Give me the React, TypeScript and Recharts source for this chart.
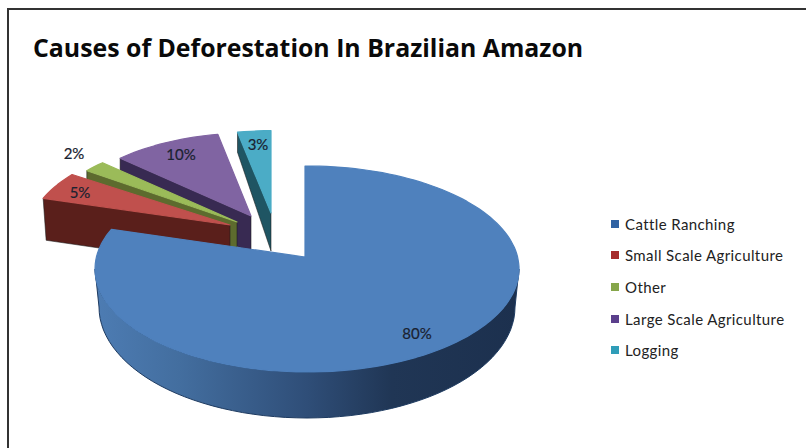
import React from "react";
import { PieChart, Pie, Legend } from "recharts";

const titleText = "Causes of Deforestation In Brazilian Amazon";
const categories = ["Cattle Ranching", "Small Scale Agriculture", "Other", "Large Scale Agriculture", "Logging"];
const shares = [80, 5, 2, 10, 3];
const topColors = ["#4f81bd", "#c0504d", "#9bbb59", "#8064a2", "#4bacc6"];
const legendColors = ["#2f62a3", "#a62b2b", "#86a64a", "#5b3f8c", "#2f9db8"];
const wallColors = ["#2f4f7a", "#5a1f1b", "#5d6b2e", "#382a52", "#1f5563"];

// Slices are listed counter-clockwise so that the nearest one is painted last.
const pieData = categories.map((name, i) => ({ name, value: shares[i] })).reverse();

type Geom = { dx: number; dy: number; s: number; k: number; depthTip: number; depthOuter: number; wallDx: number; lx: number; ly: number };
const GEOM: Record<string, Geom> = {
  "Cattle Ranching": { dx: 0, dy: 0, s: 1, k: 0.44, depthTip: 0, depthOuter: 0, wallDx: 0, lx: 112, ly: 76 },
  "Small Scale Agriculture": { dx: -75, dy: -32, s: 0.965, k: 0.44, depthTip: 42, depthOuter: 42, wallDx: 3, lx: -150, ly: -33 },
  Other: { dx: -68, dy: -35, s: 0.94, k: 0.47, depthTip: 40, depthOuter: 40, wallDx: 0, lx: -163, ly: -69 },
  "Large Scale Agriculture": { dx: -54, dy: -41, s: 0.915, k: 0.47, depthTip: 36, depthOuter: 40, wallDx: 0, lx: -70, ly: -62 },
  Logging: { dx: -34, dy: -44, s: 0.905, k: 0.46, depthTip: 38, depthOuter: 20, wallDx: 0, lx: -13, ly: -69 },
};
const ELLIPSE_RATIO = 103 / 212;
const CX = 305;
const CY = 257;
const R = 212;
const FONT = "Lato, 'Open Sans', sans-serif";

const colorOf = (name: string, list: string[]) => list[categories.indexOf(name)];

function Slice3D(props: any) {
  const { cx, cy, outerRadius, startAngle, endAngle } = props;
  const name: string = props.name ?? props.payload?.name;
  const g = GEOM[name];
  const tx = cx + g.dx;
  const ty = cy + g.dy;
  const rx = outerRadius * g.s;
  const ry = rx * ELLIPSE_RATIO;
  const ox = 2 * g.s;
  const oy = 12 * g.s;
  const at = (deg: number) => {
    const a = (deg * Math.PI) / 180;
    const ux = Math.cos(a);
    const uy = -Math.sin(a) * g.k;
    const A = (ux * ux) / (rx * rx) + (uy * uy) / (ry * ry);
    const B = -2 * ((ux * ox) / (rx * rx) + (uy * oy) / (ry * ry));
    const C = (ox * ox) / (rx * rx) + (oy * oy) / (ry * ry) - 1;
    const t = (-B + Math.sqrt(B * B - 4 * A * C)) / (2 * A);
    return [tx + ux * t, ty + uy * t];
  };
  const steps = Math.max(4, Math.round(Math.abs(endAngle - startAngle) / 2));
  const arc: number[][] = [];
  for (let i = 0; i <= steps; i++) arc.push(at(startAngle + ((endAngle - startAngle) * i) / steps));
  const top = "M" + [[tx, ty], ...arc].map((p) => p[0].toFixed(1) + " " + p[1].toFixed(1)).join("L") + "Z";
  const top_fill = colorOf(name, topColors);

  let wall: React.ReactNode = null;
  if (name === "Cattle Ranching") {
    const ex = tx + ox;
    const ey = ty + oy;
    const up: string[] = [];
    const low: string[] = [];
    for (let d = 180; d <= 360; d += 3) {
      const a = (d * Math.PI) / 180;
      up.push((ex + rx * Math.cos(a)).toFixed(1) + " " + (ey - ry * Math.sin(a)).toFixed(1));
      const depth = 38 + 8 * Math.abs(Math.sin(a));
      low.unshift((ex + (rx - 4) * Math.cos(a)).toFixed(1) + " " + (ey - ry * Math.sin(a) + depth).toFixed(1));
    }
    wall = <path d={"M" + up.concat(low).join("L") + "Z"} fill="url(#rimGrad)" stroke="#1d3a60" strokeWidth={1} />;
  } else {
    const p = at(endAngle);
    const quad = `M${tx} ${ty}L${p[0]} ${p[1]}L${p[0] + g.wallDx} ${p[1] + g.depthOuter}L${tx} ${ty + g.depthTip}Z`;
    wall = <path d={quad} fill={colorOf(name, wallColors)} stroke="#1a1a1a" strokeWidth={0.8} strokeOpacity={0.7} />;
  }
  return (
    <g>
      {wall}
      <path d={top} fill={top_fill} stroke={top_fill} strokeWidth={1.2} strokeLinejoin="round" />
    </g>
  );
}

function SliceLabel(props: any) {
  const name: string = props.name ?? props.payload?.name;
  const g = GEOM[name];
  return (
    <text x={props.cx + g.dx + g.lx} y={props.cy + g.dy + g.ly} textAnchor="middle" dominantBaseline="central" fontFamily={FONT} fontSize={15} fill="#1a2230" stroke="#1a2230" strokeWidth={0.2}>
      {props.value + "%"}
    </text>
  );
}

function LegendList() {
  return (
    <div style={{ fontFamily: FONT, fontSize: 15, color: "#222", letterSpacing: 0.4 }}>
      {categories.map((c, i) => (
        <div key={c} style={{ display: "flex", alignItems: "center", height: 31.6, whiteSpace: "nowrap" }}>
          <span style={{ display: "inline-block", width: 8, height: 8, background: legendColors[i], marginRight: 6 }} />
          {c}
        </div>
      ))}
    </div>
  );
}

export default function App() {
  return (
    <div style={{ position: "absolute", left: 0, top: 0, width: 806, height: 448, background: "#fff", overflow: "hidden" }}>
      <div style={{ position: "absolute", left: 7, top: 8, width: 820, height: 460, border: "2px solid #333", boxSizing: "border-box" }} />
      <PieChart width={806} height={448} margin={{ top: 0, right: 0, bottom: 0, left: 0 }} style={{ position: "absolute", left: 0, top: 0 }}>
        <defs>
          <linearGradient id="rimGrad" x1="0" y1="0" x2="1" y2="0">
            <stop offset="0" stopColor="#4d7cb3" />
            <stop offset="0.2" stopColor="#436e9f" />
            <stop offset="0.5" stopColor="#2f4e78" />
            <stop offset="0.7" stopColor="#203655" />
            <stop offset="1" stopColor="#1c304e" />
          </linearGradient>
        </defs>
        <text x={33} y={57} fontFamily="'Open Sans', sans-serif" fontWeight={700} fontSize={24.85} fill="#0a0a0a">
          {titleText}
        </text>
        <Pie
          data={pieData}
          dataKey="value"
          nameKey="name"
          cx={CX}
          cy={CY}
          outerRadius={R}
          startAngle={90}
          endAngle={450}
          stroke="none"
          shape={Slice3D}
          label={SliceLabel}
          labelLine={false}
          isAnimationActive={false}
        />
        <Legend content={LegendList} layout="vertical" align="right" verticalAlign="top" wrapperStyle={{ position: "absolute", left: 611, top: 208, width: 190 }} />
      </PieChart>
    </div>
  );
}
